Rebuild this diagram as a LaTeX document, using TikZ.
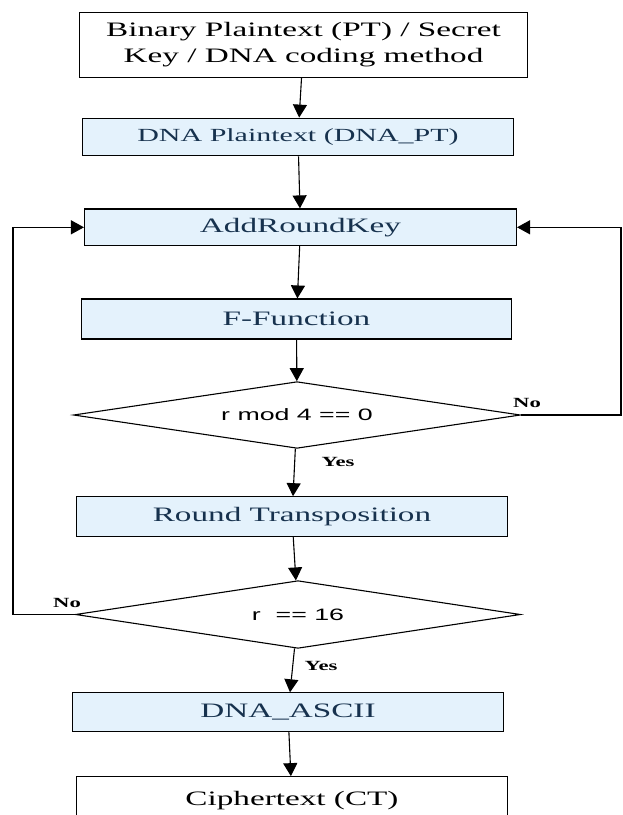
\documentclass[tikz,border=0pt]{standalone}
\usepackage{fontspec}
\setmainfont{Liberation Serif}[FakeStretch=1.62]
\setsansfont{Liberation Sans}[FakeStretch=1.62]
\usetikzlibrary{arrows.meta,shapes.geometric}
\definecolor{boxfill}{HTML}{E4F2FC}
\definecolor{boxtext}{HTML}{17324E}

\begin{document}
\begin{tikzpicture}[x=1pt,y=-1pt,>={Triangle[width=14pt,length=13pt]},line width=1.1pt]
  \tikzset{plain/.style={draw,rectangle,inner sep=0pt,font=\fontsize{20.5}{26}\selectfont,align=center},
           step box/.style={plain,fill=boxfill,text=boxtext},
           test/.style={draw,diamond,aspect=6.7,inner sep=0pt,font=\sffamily\fontsize{16.5}{20}\selectfont},
           answer/.style={inner sep=0pt,font=\bfseries\fontsize{14}{16}\selectfont}}
  \useasboundingbox (0,0) rectangle (623,815);
  \node[plain,minimum width=448pt,minimum height=65pt] (input) at (303.5,44.8)
    {Binary Plaintext (PT) / Secret\\Key / DNA coding method};
  \node[step box,minimum width=431pt,minimum height=37.7pt,font=\fontsize{18.5}{22}\selectfont] (dnapt) at (298,137) {DNA Plaintext (DNA\_PT)};
  \node[step box,minimum width=432pt,minimum height=36.7pt] (ark) at (300.5,227.3) {AddRoundKey};
  \node[step box,minimum width=430pt,minimum height=40pt] (ffun) at (296.5,319) {F-Function};
  \node[test,minimum width=447pt,minimum height=66.7pt] (modtest) at (297,415) {r mod 4 == 0};
  \node[step box,minimum width=431pt,minimum height=40pt] (rtrans) at (292,516.7) {Round Transposition};
  \node[test,minimum width=445pt,minimum height=67.7pt] (roundtest) at (298,614.5) {r \ == 16};
  \node[step box,minimum width=431pt,minimum height=38.3pt] (ascii) at (288,712) {DNA\_ASCII};
  \node[plain,minimum width=431pt,minimum height=48pt] (ct) at (292,800.7) {Ciphertext (CT)};
  \node[answer] (no1) at (527,403) {No};
  \node[answer] (yes1) at (338,462) {Yes};
  \node[answer] (no2) at (67,603) {No};
  \node[answer] (yes2) at (321,666) {Yes};
  \coordinate (rloop) at (621,0);
  \coordinate (lloop) at (13,0);
  \path[->] (input)     edge (dnapt);
  \path[->] (dnapt)     edge (ark);
  \path[->] (ark)       edge (ffun);
  \path[->] (ffun)      edge (modtest);
  \path[->] (modtest)   edge (rtrans);
  \path[->] (rtrans)    edge (roundtest);
  \path[->] (roundtest) edge (ascii);
  \path[->] (ascii)     edge (ct);
  \draw[->] (modtest.east) -- (modtest.east -| rloop) -- (ark.east -| rloop) -- (ark.east);
  \draw[->] (roundtest.west) -- (roundtest.west -| lloop) -- (ark.west -| lloop) -- (ark.west);
\end{tikzpicture}
\end{document}
